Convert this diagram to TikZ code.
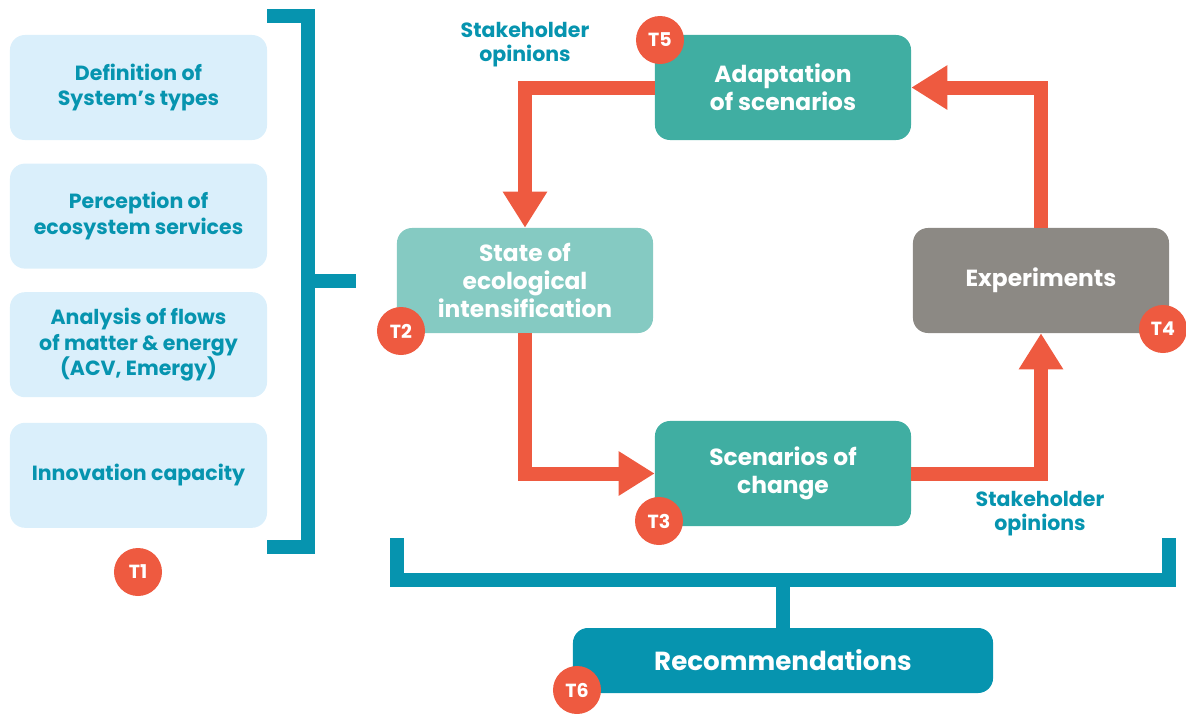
\documentclass[tikz,border=0pt]{standalone}
\usepackage{fontspec}
\setmainfont{Poppins}
\usetikzlibrary{positioning, arrows.meta}

\definecolor{tealblue}{HTML}{0694AF}
\definecolor{paleblue}{HTML}{DAEFFB}
\definecolor{flowred}{HTML}{EE5A40}
\definecolor{seagreen}{HTML}{40AEA2}
\definecolor{paleteal}{HTML}{85CAC2}
\definecolor{stonegray}{HTML}{8C8984}

\tikzset{
	method/.style={rectangle, rounded corners=0.375cm, fill=paleblue, text=tealblue, align=center,
		minimum width=6.425cm, minimum height=2.625cm, font=\bfseries\fontsize{14.6}{18.4}\selectfont},
	task/.style={rectangle, rounded corners=0.375cm, text=white, align=center,
		minimum width=6.4cm, minimum height=2.625cm, font=\bfseries\fontsize{16.6}{19.8}\selectfont},
	badge/.style={circle, fill=flowred, text=white, inner sep=0pt, minimum size=1.2cm,
		font=\bfseries\fontsize{13.5}{15}\selectfont},
	flow/.style={flowred, line width=0.35cm, line join=miter, -{Triangle[width=1.05cm, length=0.9cm]}},
	brace/.style={tealblue, line width=0.35cm, line join=miter},
	opinion/.style={text=tealblue, align=center, font=\bfseries\fontsize{14.6}{17}\selectfont}
}

\begin{document}
\begin{tikzpicture}[x=0.025cm, y=-0.025cm]
	\useasboundingbox (0,0) rectangle (1186,713);

	% left column
	\node[method] (d1) at (138.5,87.5) {Definition of\\System’s types};
	\node[method, below=0.575cm of d1] (d2) {Perception of\\ecosystem services};
	\node[method, below=0.575cm of d2] (d3) {Analysis of flows\\of matter \& energy\\(ACV, Emergy)};
	\node[method, below=0.625cm of d3] (d4) {Innovation capacity};
	\node[badge] (t1) at (138,572) {T1};

	\draw[brace] (267,16) -- (308,16) -- (308,547) -- (267,547);
	\draw[brace] (308,281) -- (356,281);

	% cycle
	\node[task, fill=seagreen] (adapt) at (783,87.5) {Adaptation\\of scenarios};
	\node[task, fill=paleteal] (state) at (525,280.5) {State of\\ecological\\intensification};
	\node[task, fill=stonegray] (exp) at (1041,280.5) {Experiments};
	\node[task, fill=seagreen] (scen) at (783,473.5) {Scenarios of\\change};

	\draw[flow] (adapt.west) -| (state.north);
	\draw[flow] (state.south) |- (scen.west);
	\draw[flow] (scen.east) -| (exp.south);
	\draw[flow] (exp.north) |- (adapt.east);

	\node[opinion] (op1) at (525,45) {Stakeholder\\opinions};
	\node[opinion] (op2) at (1040,514) {Stakeholder\\opinions};

	\node[badge] (t5) at (660,40) {T5};
	\node[badge] (t2) at (401,331) {T2};
	\node[badge] (t4) at (1163,329) {T4};
	\node[badge] (t3) at (659,521) {T3};

	% recommendations
	\node[task, fill=tealblue, minimum width=10.5cm, minimum height=1.625cm,
		font=\bfseries\fontsize{18.6}{22}\selectfont] (rec) at (783,660.5) {Recommendations};
	\coordinate (stem) at (783,580);
	\draw[brace] (397,538) -- (397,580) -- (1169,580) -- (1169,538);
	\draw[brace] (stem) -- (rec.north);
	\node[badge] (t6) at (577,690) {T6};
\end{tikzpicture}
\end{document}
